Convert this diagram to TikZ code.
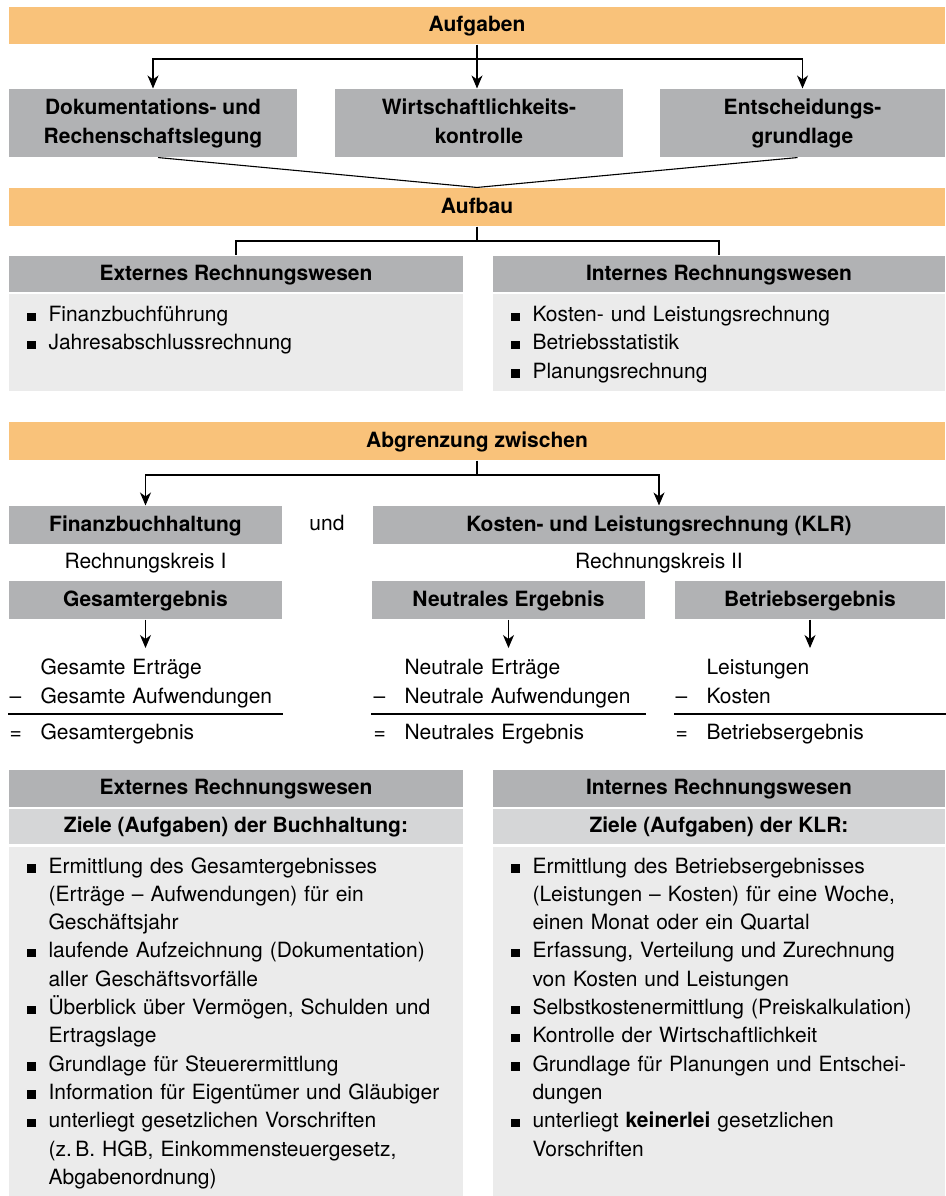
\documentclass[tikz,border=0pt]{standalone}
\usepackage{fontspec}
\setmainfont{TeX Gyre Heros}
\usetikzlibrary{positioning, arrows.meta}

\definecolor{barorange}{RGB}{249,194,122}
\definecolor{headgray}{RGB}{177,178,180}
\definecolor{subgray}{RGB}{213,214,215}
\definecolor{bodygray}{RGB}{235,235,235}

\newcommand{\basefont}{\fontsize{21}{28.3}\selectfont}
\newcommand{\bul}{\makebox[22pt][l]{\rule[0.5pt]{9pt}{8.5pt}}}
\newcommand{\ind}{\hspace*{22pt}}
\newcommand{\opsign}[1]{\makebox[31pt][l]{#1}}

\begin{document}
\begin{tikzpicture}[x=1pt, y=-1pt,
	bar/.style={rectangle, fill=barorange, inner sep=0pt, minimum width=936pt, minimum height=37pt, text height=20pt, text depth=8pt, font=\basefont\bfseries},
	headbox/.style={rectangle, fill=headgray, inner sep=0pt, minimum height=37pt, text height=20pt, text depth=8pt, font=\basefont\bfseries},
	subbox/.style={rectangle, fill=subgray, inner sep=0pt, minimum height=35pt, text height=20pt, text depth=8pt, font=\basefont\bfseries},
	twoline/.style={rectangle, fill=headgray, inner sep=0pt, minimum height=68pt, align=center, font=\fontsize{21}{29.4}\selectfont\bfseries},
	bodybox/.style={rectangle, fill=bodygray, inner sep=0pt},
	plain/.style={inner sep=0pt, text height=20pt, text depth=8pt, font=\basefont},
	listtext/.style={inner sep=0pt, anchor=base west, text width=430pt, align=left, font=\basefont},
	calc/.style={inner sep=0pt, anchor=base west, text width=280pt, align=left, font=\fontsize{21}{29}\selectfont},
	arr/.style={-{Stealth[length=13pt, width=11pt, inset=4pt]}},
	line width=1.1pt
]
\useasboundingbox (0,0) rectangle (945,1196);

% Aufgaben
\node[bar] (aufgaben) at (477,25.5) {Aufgaben};
\node[twoline, minimum width=288pt] (dok) at (153,123) {\strut Dokumentations- und\\Rechenschaftslegung\strut};
\node[twoline, minimum width=288pt] (wirt) at (479,123) {\strut Wirtschaftlichkeits-\\kontrolle\strut};
\node[twoline, minimum width=285pt] (ent) at (802.5,123) {\strut Entscheidungs-\\grundlage\strut};

\coordinate (topfork) at (477,59);
\draw (aufgaben.south) -- (topfork);
\draw[arr] (topfork) -| (dok.north);
\draw[arr] (topfork) -| (ent.north);
\draw[arr] (topfork) -- (topfork |- wirt.north);

% Aufbau
\node[bar, minimum height=38pt] (aufbau) at (477,207) {Aufbau};
\draw ([xshift=5pt]dok.south) -- (aufbau.north);
\draw ([xshift=-5pt]ent.south) -- (aufbau.north);

\node[headbox, minimum width=454pt, minimum height=36pt] (extHead) at (236,274) {Externes Rechnungswesen};
\node[bodybox, minimum width=454pt, minimum height=97pt] (extBody) at (236,342.5) {};
\node[headbox, minimum width=452pt, minimum height=36pt] (intHead) at (719,274) {Internes Rechnungswesen};
\node[bodybox, minimum width=452pt, minimum height=97pt] (intBody) at (719,342.5) {};

\coordinate (midfork) at (477,241);
\draw (aufbau.south) -- (midfork) -| (extHead.north);
\draw (midfork) -| (intHead.north);

\node[listtext] (extList) at (26,321.5) {\bul Finanzbuchführung\\
\bul Jahresabschlussrechnung};
\node[listtext] (intList) at (510,321.5) {\bul Kosten- und Leistungsrechnung\\
\bul Betriebsstatistik\\
\bul Planungsrechnung};

% Abgrenzung
\node[bar, minimum height=38pt] (abgr) at (477,441) {Abgrenzung zwischen};
\node[headbox, minimum width=273pt, minimum height=38pt] (fibu) at (145.5,525) {Finanzbuchhaltung};
\node[plain] (und) at (327,524) {und};
\node[headbox, minimum width=572pt, minimum height=38pt] (klr) at (659,525) {Kosten- und Leistungsrechnung (KLR)};

\coordinate (lowfork) at (477,475);
\draw (abgr.south) -- (lowfork);
\draw[arr] (lowfork) -| (fibu.north);
\draw[arr] (lowfork) -| (klr.north);

\node[plain] (rk1) at (145.5,562) {Rechnungskreis I};
\node[plain] (rk2) at (659,562) {Rechnungskreis II};

\node[headbox, minimum width=273pt, minimum height=38pt] (gesamt) at (145.5,600) {Gesamtergebnis};
\node[headbox, minimum width=273pt, minimum height=38pt] (neutral) at (508.5,600) {Neutrales Ergebnis};
\node[headbox, minimum width=270pt, minimum height=38pt] (betrieb) at (810,600) {Betriebsergebnis};

\coordinate (gesEnd) at (145.5,648);
\coordinate (neuEnd) at (508.5,648);
\coordinate (betEnd) at (810,648);
\draw[arr] (gesamt.south) -- (gesEnd);
\draw[arr] (neutral.south) -- (neuEnd);
\draw[arr] (betrieb.south) -- (betEnd);

\node[calc] (gesCalc) at (9,674) {\opsign{}Gesamte Erträge\\\opsign{–}Gesamte Aufwendungen};
\node[calc] (neuCalc) at (373,674) {\opsign{}Neutrale Erträge\\\opsign{–}Neutrale Aufwendungen};
\node[calc] (betCalc) at (675,674) {\opsign{}Leistungen\\\opsign{–}Kosten};

\coordinate (ruleY) at (0,714);
\draw (gesamt.west |- ruleY) -- (gesamt.east |- ruleY);
\draw (neutral.west |- ruleY) -- (neutral.east |- ruleY);
\draw (betrieb.west |- ruleY) -- (betrieb.east |- ruleY);

\node[calc] (gesRes) at (9,739) {\opsign{=}Gesamtergebnis};
\node[calc] (neuRes) at (373,739) {\opsign{=}Neutrales Ergebnis};
\node[calc] (betRes) at (675,739) {\opsign{=}Betriebsergebnis};

% Ziele
\node[headbox, minimum width=454pt] (extHeadB) at (236,788.5) {Externes Rechnungswesen};
\node[subbox, minimum width=454pt] (extZiele) at (236,826.5) {Ziele (Aufgaben) der Buchhaltung:};
\node[bodybox, minimum width=454pt, minimum height=349pt] (extBodyB) at (236,1021.5) {};
\node[headbox, minimum width=452pt] (intHeadB) at (719,788.5) {Internes Rechnungswesen};
\node[subbox, minimum width=452pt] (intZiele) at (719,826.5) {Ziele (Aufgaben) der KLR:};
\node[bodybox, minimum width=452pt, minimum height=349pt] (intBodyB) at (719,1021.5) {};

\node[listtext] (extGoals) at (26,873) {\bul Ermittlung des Gesamtergebnisses\\
\ind (Erträge – Aufwendungen) für ein\\
\ind Geschäftsjahr\\
\bul laufende Aufzeichnung (Dokumentation)\\
\ind aller Geschäftsvorfälle\\
\bul Überblick über Vermögen, Schulden und\\
\ind Ertragslage\\
\bul Grundlage für Steuerermittlung\\
\bul Information für Eigentümer und Gläubiger\\
\bul unterliegt gesetzlichen Vorschriften\\
\ind (z.\,B. HGB, Einkommensteuergesetz,\\
\ind Abgabenordnung)};
\node[listtext] (intGoals) at (510,873) {\bul Ermittlung des Betriebsergebnisses\\
\ind (Leistungen – Kosten) für eine Woche,\\
\ind einen Monat oder ein Quartal\\
\bul Erfassung, Verteilung und Zurechnung\\
\ind von Kosten und Leistungen\\
\bul Selbstkostenermittlung (Preiskalkulation)\\
\bul Kontrolle der Wirtschaftlichkeit\\
\bul Grundlage für Planungen und Entschei-\\
\ind dungen\\
\bul unterliegt \textbf{keinerlei} gesetzlichen\\
\ind Vorschriften};

\end{tikzpicture}
\end{document}
